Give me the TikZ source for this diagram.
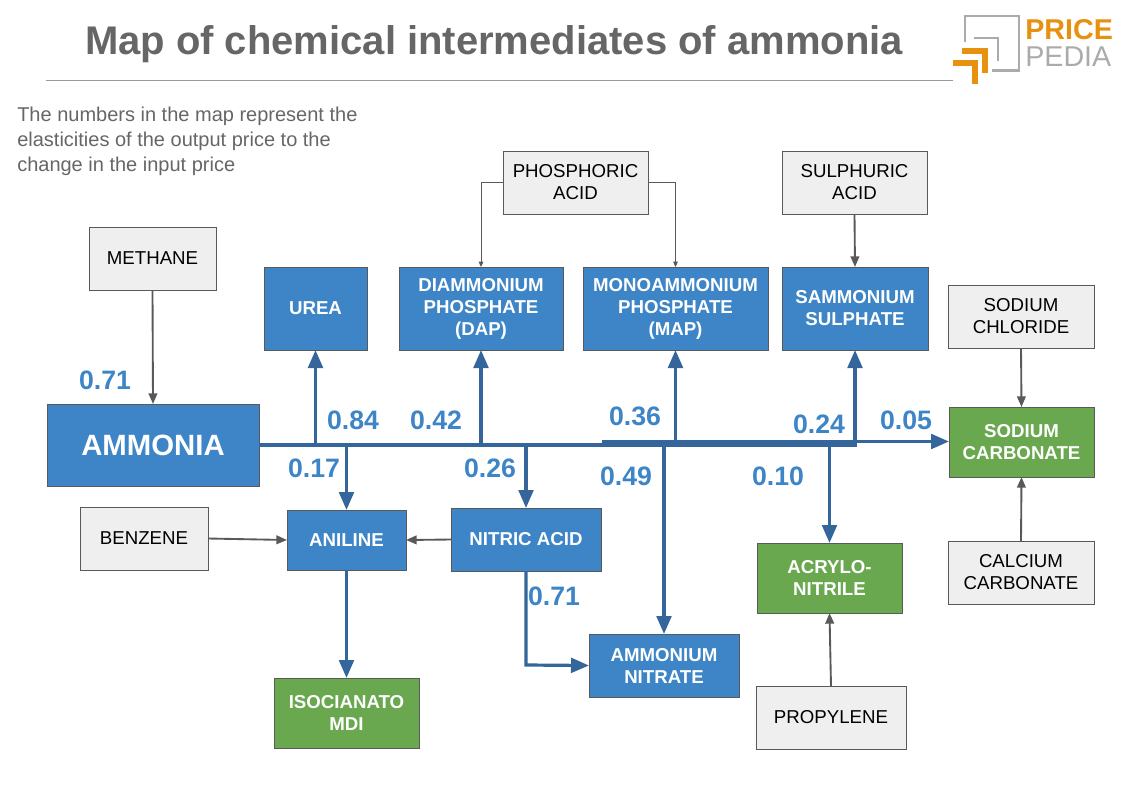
\documentclass[tikz,border=0pt]{standalone}
\usepackage{fontspec}
\setmainfont{Liberation Sans}
\usetikzlibrary{arrows.meta}
\definecolor{bluefill}{HTML}{3D85C6}
\definecolor{trunk}{HTML}{34659B}
\definecolor{edgegray}{HTML}{595959}
\definecolor{lightfill}{HTML}{EFEFEF}
\definecolor{greenfill}{HTML}{6AA84F}
\definecolor{titlegray}{HTML}{666666}
\definecolor{logoorange}{HTML}{E69110}
\definecolor{logogray}{HTML}{ABABAB}
\newcommand{\bx}[7]{\node[#6,minimum width={(#4-#2)*0.75pt},minimum height={(#5-#3)*0.75pt}] (#1) at ({(#2+#4)/2},{(#3+#5)/2}) {#7};}
\tikzset{
  boxbase/.style={draw=edgegray,line width=0.75pt,inner sep=0pt,outer sep=0pt,align=center,font=\fontsize{14}{16.5}\selectfont},
  rawbox/.style={boxbase,fill=lightfill,text=black},
  bluebox/.style={boxbase,fill=bluefill,text=white,font=\fontsize{14}{16.5}\selectfont\bfseries},
  greenbox/.style={boxbase,fill=greenfill,text=white,font=\fontsize{14}{16.5}\selectfont\bfseries},
  elast/.style={text=bluefill,font=\fontsize{20}{24}\selectfont\bfseries,inner sep=0pt},
  mainline/.style={draw=trunk,line width=2.4pt},
  mainarrow/.style={mainline,-{Triangle[length=13.5pt,width=11pt]}},
  feedarrow/.style={draw=edgegray,line width=1.4pt,-{Triangle[length=8pt,width=6.5pt]}},
  thinarrow/.style={draw=edgegray,line width=0.75pt,-{Triangle[length=4pt,width=3.5pt]}},
}
\begin{document}
\begin{tikzpicture}[x=0.75pt,y=-0.75pt]
\useasboundingbox (0,0) rectangle (1121,793);
% title
\node[anchor=center,text=titlegray,font=\fontsize{30}{36}\selectfont\bfseries,inner sep=0pt] (title) at (494,44) {Map of chemical intermediates of ammonia};
\coordinate (ruleL) at (46,80.5);
\coordinate (ruleR) at (953,80.5);
\draw[draw=logogray!90!black,line width=0.75pt] (ruleL) -- (ruleR);
% logo
\draw[logogray,line width=2pt] (965,42) -- (965,16) -- (1019,16) -- (1019,70.5) -- (992,70.5);
\draw[logogray,line width=2pt] (974,38) -- (998,38) -- (998,61);
\draw[logoorange,line width=4.5pt] (962,50.5) -- (984.5,50.5) -- (984.5,73);
\draw[logoorange,line width=4.5pt] (953,63) -- (975,63) -- (975,84);
\node[anchor=west,text=logoorange,font=\fontsize{21.5}{24}\selectfont\bfseries,inner sep=0pt] (logoa) at (1025,30) {PRICE};
\node[anchor=west,text=logogray,font=\fontsize{21.5}{24}\selectfont,inner sep=0pt] (logob) at (1025,57) {PEDIA};
% note
\node[anchor=north west,align=left,text=titlegray,font=\fontsize{15}{18.5}\selectfont,inner sep=0pt] (note) at (17,107) {The numbers in the map represent the\\elasticities of the output price to the\\change in the input price};
% boxes
\bx{methane}{89}{227}{216}{290}{rawbox}{METHANE}
\bx{ammonia}{47}{404}{259}{486}{bluebox,font=\fontsize{22}{26}\selectfont\bfseries}{AMMONIA}
\bx{urea}{264}{267}{367}{350}{bluebox}{UREA}
\bx{dap}{399}{267}{563}{350}{bluebox}{DIAMMONIUM\\PHOSPHATE\\(DAP)}
\bx{map}{583}{267}{768}{350}{bluebox}{MONOAMMONIUM\\PHOSPHATE\\(MAP)}
\bx{sam}{782}{267}{928}{350}{bluebox}{SAMMONIUM\\SULPHATE}
\bx{phos}{503}{151}{648}{214}{rawbox}{PHOSPHORIC\\ACID}
\bx{sulph}{782}{151}{927}{214}{rawbox}{SULPHURIC\\ACID}
\bx{nacl}{948}{285}{1094}{348}{rawbox}{SODIUM\\CHLORIDE}
\bx{soda}{949}{407}{1094}{477}{greenbox}{SODIUM\\CARBONATE}
\bx{caco}{948}{541}{1094}{604}{rawbox}{CALCIUM\\CARBONATE}
\bx{benzene}{80}{507}{208}{570}{rawbox}{BENZENE}
\bx{aniline}{287}{510}{406}{570}{bluebox}{ANILINE}
\bx{nitric}{451}{508}{601}{571}{bluebox}{NITRIC ACID}
\bx{acrylo}{757}{543}{902}{613}{greenbox}{ACRYLO-\\NITRILE}
\bx{propylene}{756}{686}{906}{749}{rawbox}{PROPYLENE}
\bx{nitrate}{589}{634}{739}{697}{bluebox}{AMMONIUM\\NITRATE}
\bx{iso}{274}{678}{419}{748}{greenbox}{ISOCIANATO\\MDI}
% trunk
\coordinate (trunkend) at (857,445);
\coordinate (upperstart) at (602,441.5);
\coordinate (nitricknee) at (526,665);
\draw[mainline] (ammonia.east |- trunkend) -- (trunkend);
\draw[mainarrow] (upperstart) -- (upperstart -| soda.west);
\draw[mainarrow] (urea.south |- trunkend) -- (urea.south);
\draw[mainarrow] (dap.south |- trunkend) -- (dap.south);
\draw[mainarrow] (map.south |- trunkend) -- (map.south);
\draw[mainarrow] (sam.south |- trunkend) -- (sam.south);
\draw[mainarrow] (aniline.north |- trunkend) -- (aniline.north);
\draw[mainarrow] (nitric.north |- trunkend) -- (nitric.north);
\draw[mainarrow] (nitrate.north |- trunkend) -- (nitrate.north);
\draw[mainarrow] (acrylo.north |- trunkend) -- (acrylo.north);
\draw[mainarrow] (aniline.south) -- (iso.north);
\draw[mainarrow] (nitric.south) -- (nitricknee) -- (nitrate.west);
% feeds
\draw[feedarrow] (methane.south) -- (ammonia.north);
\draw[feedarrow] (sulph.south) -- (sam.north);
\draw[feedarrow] (nacl.south) -- (soda.north);
\draw[feedarrow] (caco.north) -- (soda.south);
\draw[feedarrow] (benzene.east) -- (aniline.west);
\draw[feedarrow] (nitric.west) -- (aniline.east);
\draw[feedarrow] (propylene.north) -- (acrylo.south);
\draw[thinarrow] (phos.west) -| (dap.north);
\draw[thinarrow] (phos.east) -| (map.north);
% elasticities
\node[elast] (e1) at (105,380) {0.71};
\node[elast] (e2) at (353,420) {0.84};
\node[elast] (e3) at (436,420) {0.42};
\node[elast] (e4) at (635,416) {0.36};
\node[elast] (e5) at (819,424) {0.24};
\node[elast] (e6) at (906,420) {0.05};
\node[elast] (e7) at (314,468) {0.17};
\node[elast] (e8) at (490,468) {0.26};
\node[elast] (e9) at (626,476) {0.49};
\node[elast] (e10) at (778,476) {0.10};
\node[elast] (e11) at (554,596) {0.71};
\end{tikzpicture}
\end{document}
